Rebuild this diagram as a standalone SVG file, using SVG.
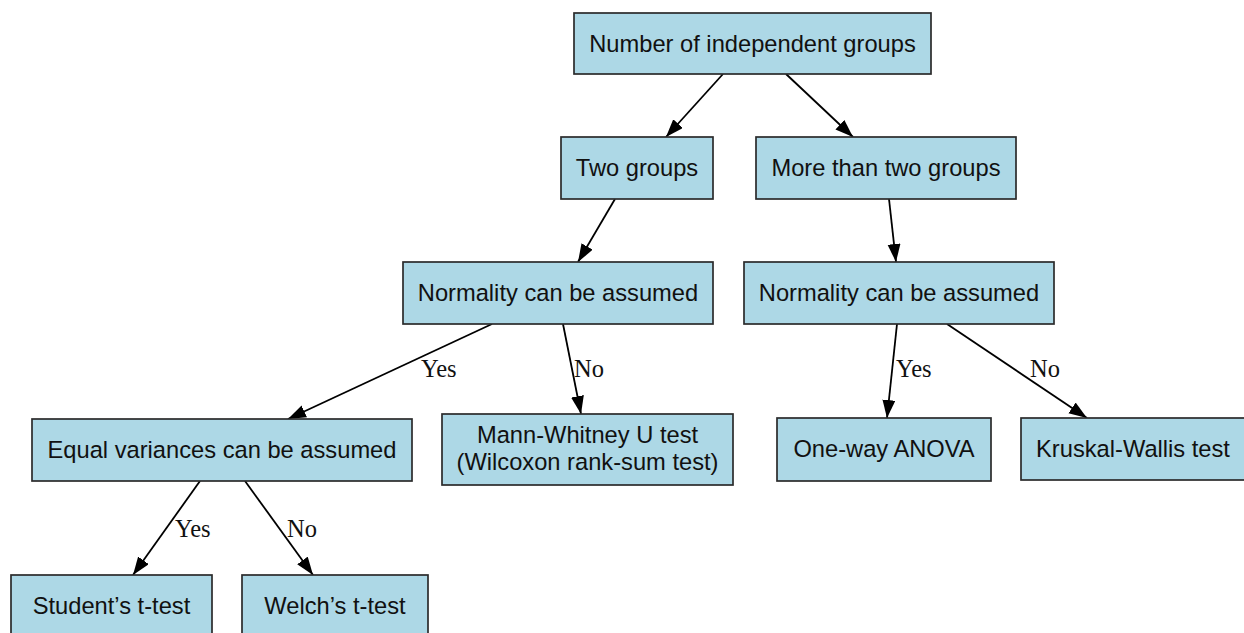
<svg xmlns="http://www.w3.org/2000/svg" width="1244" height="633" viewBox="0 0 1244 633">
<style>
.n rect{fill:#ADD8E6;stroke:#2b2b2b;stroke-width:1.7}
.n text{font-family:"Liberation Sans",Arial,sans-serif;font-size:23.7px;fill:#111;text-anchor:middle}
.e line{stroke:#000;stroke-width:1.8;marker-end:url(#ah)}
.lbl{font-family:"Liberation Serif","Times New Roman",serif;font-size:24.5px;fill:#111}
</style>
<defs>
<marker id="ah" markerUnits="userSpaceOnUse" markerWidth="20" markerHeight="16" refX="18" refY="6.5" orient="auto" viewBox="0 0 20 16">
<path d="M0,0 L18,6.5 L0,13 z" fill="#000"/>
</marker>
</defs>
<rect width="1244" height="633" fill="#fff"/>
<g id="connectors" class="e">
<line x1="723" y1="74" x2="666" y2="137"/>
<line x1="786" y1="74" x2="853" y2="137"/>
<line x1="615" y1="199" x2="578" y2="262"/>
<line x1="889" y1="199" x2="896" y2="262"/>
<line x1="492" y1="324" x2="288" y2="419"/>
<line x1="563" y1="324" x2="581" y2="414"/>
<line x1="200" y1="481" x2="133" y2="575"/>
<line x1="245" y1="481" x2="313" y2="575"/>
<line x1="897" y1="324" x2="887" y2="418"/>
<line x1="947" y1="324" x2="1087" y2="418"/>
</g>
<g id="edge-labels">
<text class="lbl" x="421" y="377">Yes</text>
<text class="lbl" x="574" y="377">No</text>
<text class="lbl" x="175" y="537">Yes</text>
<text class="lbl" x="287" y="537">No</text>
<text class="lbl" x="896" y="377">Yes</text>
<text class="lbl" x="1030" y="377">No</text>
</g>
<g id="n-root" class="n"><rect x="574" y="13" width="357" height="61"/><text x="752.5" y="52">Number of independent groups</text></g>
<g id="n-two" class="n"><rect x="561" y="137" width="152" height="62"/><text x="637" y="176">Two groups</text></g>
<g id="n-more" class="n"><rect x="756" y="137" width="260" height="62"/><text x="886" y="176">More than two groups</text></g>
<g id="n-normL" class="n"><rect x="403" y="262" width="310" height="62"/><text x="558" y="301">Normality can be assumed</text></g>
<g id="n-normR" class="n"><rect x="744" y="262" width="310" height="62"/><text x="899" y="301">Normality can be assumed</text></g>
<g id="n-eqvar" class="n"><rect x="32" y="419" width="380" height="62"/><text x="222" y="458">Equal variances can be assumed</text></g>
<g id="n-mann" class="n"><rect x="442" y="414" width="291" height="71"/><text x="587.5" y="443">Mann-Whitney U test</text><text x="587.5" y="470">(Wilcoxon rank-sum test)</text></g>
<g id="n-anova" class="n"><rect x="777" y="418" width="214" height="63"/><text x="884" y="457">One-way ANOVA</text></g>
<g id="n-kruskal" class="n"><rect x="1021" y="418" width="226" height="62"/><text x="1133" y="457">Kruskal-Wallis test</text></g>
<g id="n-student" class="n"><rect x="11" y="575" width="201" height="64"/><text x="111.5" y="614">Student’s t-test</text></g>
<g id="n-welch" class="n"><rect x="242" y="575" width="186" height="64"/><text x="335" y="614">Welch’s t-test</text></g>
</svg>
